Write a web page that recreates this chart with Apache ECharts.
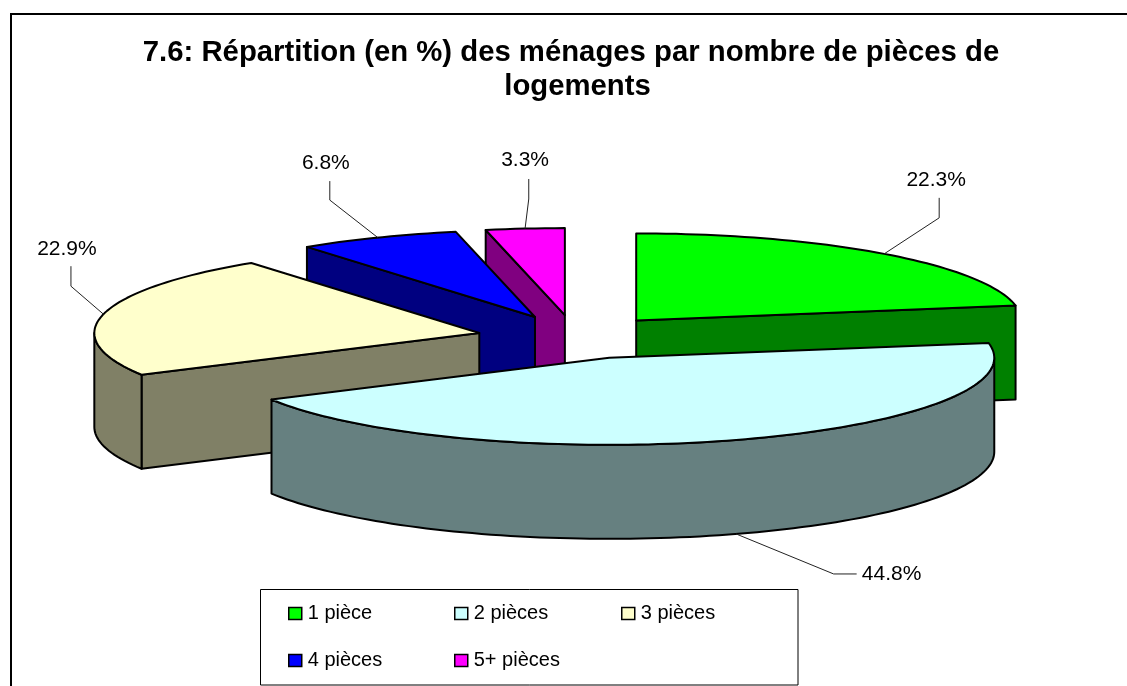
<!DOCTYPE html>
<html><head><meta charset="utf-8">
<style>html,body{margin:0;padding:0;background:#fff}#c{width:1127px;height:686px}</style>
<script src="https://cdn.jsdelivr.net/npm/echarts@6/dist/echarts.min.js"></script>
</head><body><div id="c"></div>
<script>
const titleLines = ['7.6: Répartition (en %) des ménages par nombre de pièces de', 'logements'];
const categories = ['1 pièce', '2 pièces', '3 pièces', '4 pièces', '5+ pièces'];
const values = [22.3, 44.8, 22.9, 6.8, 3.3];
const topColors = ['#00FF00', '#CCFFFF', '#FFFFCC', '#0000FF', '#FF00FF'];
const sideColors = ['#008000', '#668080', '#808066', '#000080', '#800080'];

// pie projection (layout)
const pie = {cx: 575, cy: 338, rx: 385, ry: 87, depth: 94};
const explodeX = [95, 104, 98, 98, 98];
const explodeY = [23, 21, 23, 23, 23];
const sliceZ = [4, 5, 3, 2, 1]; // painter order
// label layout relative to the rim anchor: elbow, line end and label centre
const labelLayout = [
  {elbow: [55, -36], end: [55, -56], text: [52, -74]},
  {elbow: [97.5, 40], end: [120.5, 40], text: [155.5, 40]},
  {elbow: [-32.5, -28], end: [-32.5, -48], text: [-36.5, -64.5]},
  {elbow: [-48, -37.5], end: [-48, -56.5], text: [-52, -74.5]},
  {elbow: [3.7, -29.6], end: [3.7, -49.6], text: [0, -68.6]}
];
const total = values.reduce((a, b) => a + b, 0);
const RAD = Math.PI / 180;
const angles = [];
values.reduce((acc, v) => { const s = acc, e = acc + v / total * 360; angles.push([s, e]); return e; }, 0);

function sliceItem(i) {
  const [a0, a1] = angles[i];
  const mid = (a0 + a1) / 2;
  const c = [pie.cx + explodeX[i] * Math.sin(mid * RAD), pie.cy - explodeY[i] * Math.cos(mid * RAD)];
  const rim = a => [c[0] + pie.rx * Math.sin(a * RAD), c[1] - pie.ry * Math.cos(a * RAD)];
  const down = p => [p[0], p[1] + pie.depth];
  const arc = (s, e) => { const pts = []; const n = Math.max(2, Math.ceil((e - s) / 1.5)); for (let k = 0; k <= n; k++) pts.push(rim(s + (e - s) * k / n)); return pts; };
  const stroke = {stroke: '#000', lineWidth: 2, lineJoin: 'round'};
  const children = [];
  const wall = pts => children.push({type: 'polygon', shape: {points: pts}, style: Object.assign({fill: sideColors[i]}, stroke)});
  if (Math.sin(a0 * RAD) < -1e-6) wall([c, rim(a0), down(rim(a0)), down(c)]);
  if (Math.sin(a1 * RAD) > 1e-6) wall([c, rim(a1), down(rim(a1)), down(c)]);
  const fs = Math.max(a0, 90), fe = Math.min(a1, 270);
  if (fe > fs) { const front = arc(fs, fe); wall(front.concat(front.slice().reverse().map(down))); }
  children.push({type: 'polygon', shape: {points: [c].concat(arc(a0, a1))}, style: Object.assign({fill: topColors[i]}, stroke)});
  // leader and label
  let anchor = rim(mid);
  if (mid > 90 && mid < 270) anchor = down(anchor);
  const L = labelLayout[i];
  const off = d => [anchor[0] + d[0], anchor[1] + d[1]];
  children.push({type: 'polyline', shape: {points: [anchor, off(L.elbow), off(L.end)]}, style: {stroke: '#222', lineWidth: 1, fill: null}});
  const t = off(L.text);
  children.push({type: 'text', x: t[0], y: t[1], style: {text: values[i].toFixed(1) + '%', font: '21px "Liberation Sans", Arial, sans-serif', fill: '#000', align: 'center', verticalAlign: 'middle'}});
  return {type: 'group', children};
}

const legendCommon = {
  orient: 'vertical', top: 602, padding: 0, icon: 'rect', itemWidth: 13, itemHeight: 12, itemGap: 24, selectedMode: false,
  textStyle: {fontFamily: '"Liberation Sans", Arial, sans-serif', fontSize: 20, color: '#000', padding: [0, 0, 0, 1], lineHeight: 23},
  itemStyle: {borderColor: '#000', borderWidth: 1.5}
};
const titleStyle = {fontFamily: '"Liberation Sans", Arial, sans-serif', fontWeight: 'bold', fontSize: 29.3, lineHeight: 34, color: '#000'};
const chart = echarts.init(document.getElementById('c'), null, {renderer: 'canvas'});
chart.setOption({
  animation: false,
  backgroundColor: '#fff',
  title: [
    {text: titleLines[0], left: 566, top: 31, textAlign: 'center', textStyle: titleStyle},
    {text: titleLines[1], left: 572.5, top: 65, textAlign: 'center', textStyle: titleStyle}
  ],
  legend: [
    Object.assign({}, legendCommon, {left: 288, data: [categories[0], categories[3]]}),
    Object.assign({}, legendCommon, {left: 454, data: [categories[1], categories[4]]}),
    Object.assign({}, legendCommon, {left: 621, data: [categories[2]]})
  ],
  graphic: [
    {type: 'rect', z: -1, shape: {x: 11, y: 14, width: 1200, height: 800}, style: {fill: '#fff', stroke: '#000', lineWidth: 2}},
    {type: 'rect', z: 1, shape: {x: 260.5, y: 589.5, width: 537.5, height: 95.5}, style: {fill: '#fff', stroke: '#000', lineWidth: 1}}
  ],
  series: categories.map((name, i) => ({
    type: 'custom', name, coordinateSystem: 'none', z: 2 + sliceZ[i], silent: true,
    itemStyle: {color: topColors[i]},
    data: [{name, value: values[i]}],
    renderItem: () => sliceItem(i)
  }))
});
</script></body></html>
